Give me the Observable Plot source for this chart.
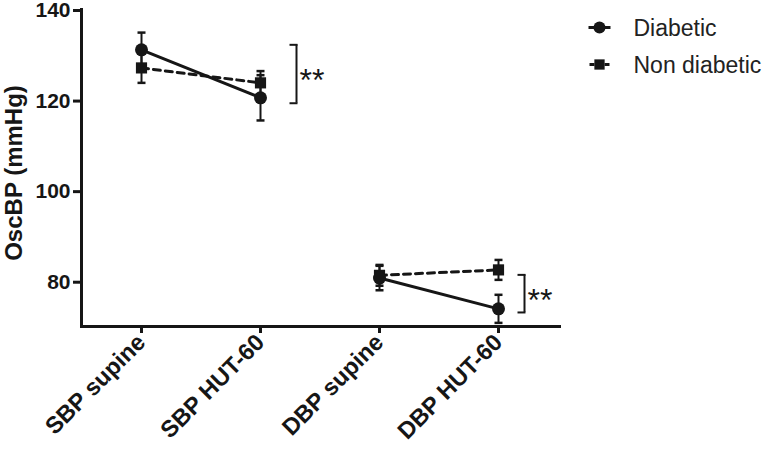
<!DOCTYPE html>
<html>
<head>
<meta charset="utf-8">
<script src="https://cdn.jsdelivr.net/npm/d3@7"></script>
<script src="https://cdn.jsdelivr.net/npm/@observablehq/plot@0.6"></script>
<style>
  html, body { margin: 0; padding: 0; background: #fff; }
</style>
</head>
<body>
<div id="chart"></div>
<script>
const categories = ["SBP supine", "SBP HUT-60", "DBP supine", "DBP HUT-60"];
const measureGroups = ["SBP", "SBP", "DBP", "DBP"];
const diabeticMean = [131.1, 120.5, 80.7, 73.9];
const diabeticSEM = [3.8, 5.0, 2.7, 3.1];
const nonDiabeticMean = [127.1, 123.8, 81.3, 82.5];
const nonDiabeticSEM = [3.3, 2.6, 2.3, 2.2];
const seriesNames = ["Diabetic", "Non diabetic"];
const yTicks = [80, 100, 120, 140];
const yLabel = "OscBP (mmHg)";
const bracketCats = ["SBP HUT-60", "DBP HUT-60"];
const bracketTop = [132.2, 81.4];
const bracketBottom = [119.3, 73.1];
const bracketLabels = ["**", "**"];

const ink = "#161616";
const toRows = (means, sems, series) => categories.map((c, i) => ({cat: c, group: measureGroups[i], mean: means[i], lo: means[i] - sems[i], hi: means[i] + sems[i], series}));
const diab = toRows(diabeticMean, diabeticSEM, seriesNames[0]);
const nond = toRows(nonDiabeticMean, nonDiabeticSEM, seriesNames[1]);
const all = [...diab, ...nond];
const caps = all.flatMap(d => [{cat: d.cat, y: d.lo}, {cat: d.cat, y: d.hi}]);
const brackets = bracketCats.map((c, i) => ({cat: c, top: bracketTop[i], bottom: bracketBottom[i], mid: (bracketTop[i] + bracketBottom[i]) / 2, label: bracketLabels[i]}));
const bracketOffsets = [36, 26];

const capSymbol = {draw(ctx) { ctx.moveTo(-4, 0); ctx.lineTo(4, 0); }};
const bracketEnd = {draw(ctx) { ctx.moveTo(-7, 0); ctx.lineTo(1, 0); }};
const legendSolid = {draw(ctx) { ctx.moveTo(-11, 0); ctx.lineTo(11, 0); }};
const legendDashed = {draw(ctx) { ctx.moveTo(-10, 0); ctx.lineTo(-5, 0); ctx.moveTo(5, 0); ctx.lineTo(10, 0); }};

const bracketMarks = brackets.flatMap((b, i) => [
  Plot.ruleX([b], {x: "cat", y1: "bottom", y2: "top", dx: bracketOffsets[i], stroke: ink, strokeWidth: 2}),
  Plot.dot([{cat: b.cat, y: b.top}, {cat: b.cat, y: b.bottom}], {x: "cat", y: "y", dx: bracketOffsets[i], symbol: bracketEnd, stroke: ink, strokeWidth: 2, fill: "none"}),
  Plot.text([b], {x: "cat", y: "mid", text: "label", dx: bracketOffsets[i] + 3, dy: 7, textAnchor: "start", lineAnchor: "middle", fontSize: 32, fontWeight: "normal", fill: ink})
]);

const chart = Plot.plot({
  width: 765,
  height: 450,
  marginLeft: 81,
  marginRight: 206,
  marginTop: 9,
  marginBottom: 124,
  style: {fontFamily: "'Liberation Sans', Arial, sans-serif", fontWeight: "bold", fontSize: "21px", color: ink, background: "#fff", overflow: "visible"},
  x: {type: "point", domain: categories, range: [141, 498], padding: 0, label: null},
  y: {domain: [70, 140], label: null},
  marks: [
    Plot.axisY({ticks: yTicks, tickSize: 8, tickPadding: 3, strokeWidth: 3, fontSize: 21, dy: 1, label: null}),
    Plot.axisX({tickSize: 7, tickPadding: 5, tickRotate: -45, strokeWidth: 3, fontSize: 23.5, label: null}),
    Plot.frame({anchor: "left", stroke: ink, strokeWidth: 3}),
    Plot.frame({anchor: "bottom", stroke: ink, strokeWidth: 3}),
    Plot.text([yLabel], {frameAnchor: "left", text: d => d, rotate: -90, dx: -67, dy: 5, textAnchor: "middle", lineAnchor: "middle", fontSize: 24, fontWeight: "bold", fill: ink}),
    Plot.line(diab, {x: "cat", y: "mean", z: "group", stroke: ink, strokeWidth: 3}),
    Plot.line(nond, {x: "cat", y: "mean", z: "group", stroke: ink, strokeWidth: 3, strokeDasharray: "7,5"}),
    Plot.ruleX(all, {x: "cat", y1: "lo", y2: "hi", stroke: ink, strokeWidth: 2}),
    Plot.dot(caps, {x: "cat", y: "y", symbol: capSymbol, stroke: ink, strokeWidth: 2.5, fill: "none"}),
    Plot.dot(nond, {x: "cat", y: "mean", symbol: "square", r: 6.3, fill: ink}),
    Plot.dot(diab, {x: "cat", y: "mean", symbol: "circle", r: 6.5, fill: ink}),
    ...bracketMarks,
    Plot.dot([0], {frameAnchor: "top-right", dx: 40, dy: 18, symbol: legendSolid, stroke: ink, strokeWidth: 3, fill: "none"}),
    Plot.dot([0], {frameAnchor: "top-right", dx: 40, dy: 18, symbol: "circle", r: 6, fill: ink}),
    Plot.dot([0], {frameAnchor: "top-right", dx: 40, dy: 55, symbol: legendDashed, stroke: ink, strokeWidth: 3, fill: "none"}),
    Plot.dot([0], {frameAnchor: "top-right", dx: 40, dy: 55, symbol: "square", r: 5.8, fill: ink}),
    Plot.text([seriesNames[0]], {frameAnchor: "top-right", text: d => d, dx: 74, dy: 19.5, textAnchor: "start", lineAnchor: "middle", fontSize: 23, fontWeight: "normal", fill: "#222"}),
    Plot.text([seriesNames[1]], {frameAnchor: "top-right", text: d => d, dx: 74, dy: 56.5, textAnchor: "start", lineAnchor: "middle", fontSize: 23, fontWeight: "normal", fill: "#222"})
  ]
});
document.getElementById("chart").appendChild(chart);
</script>
</body>
</html>
